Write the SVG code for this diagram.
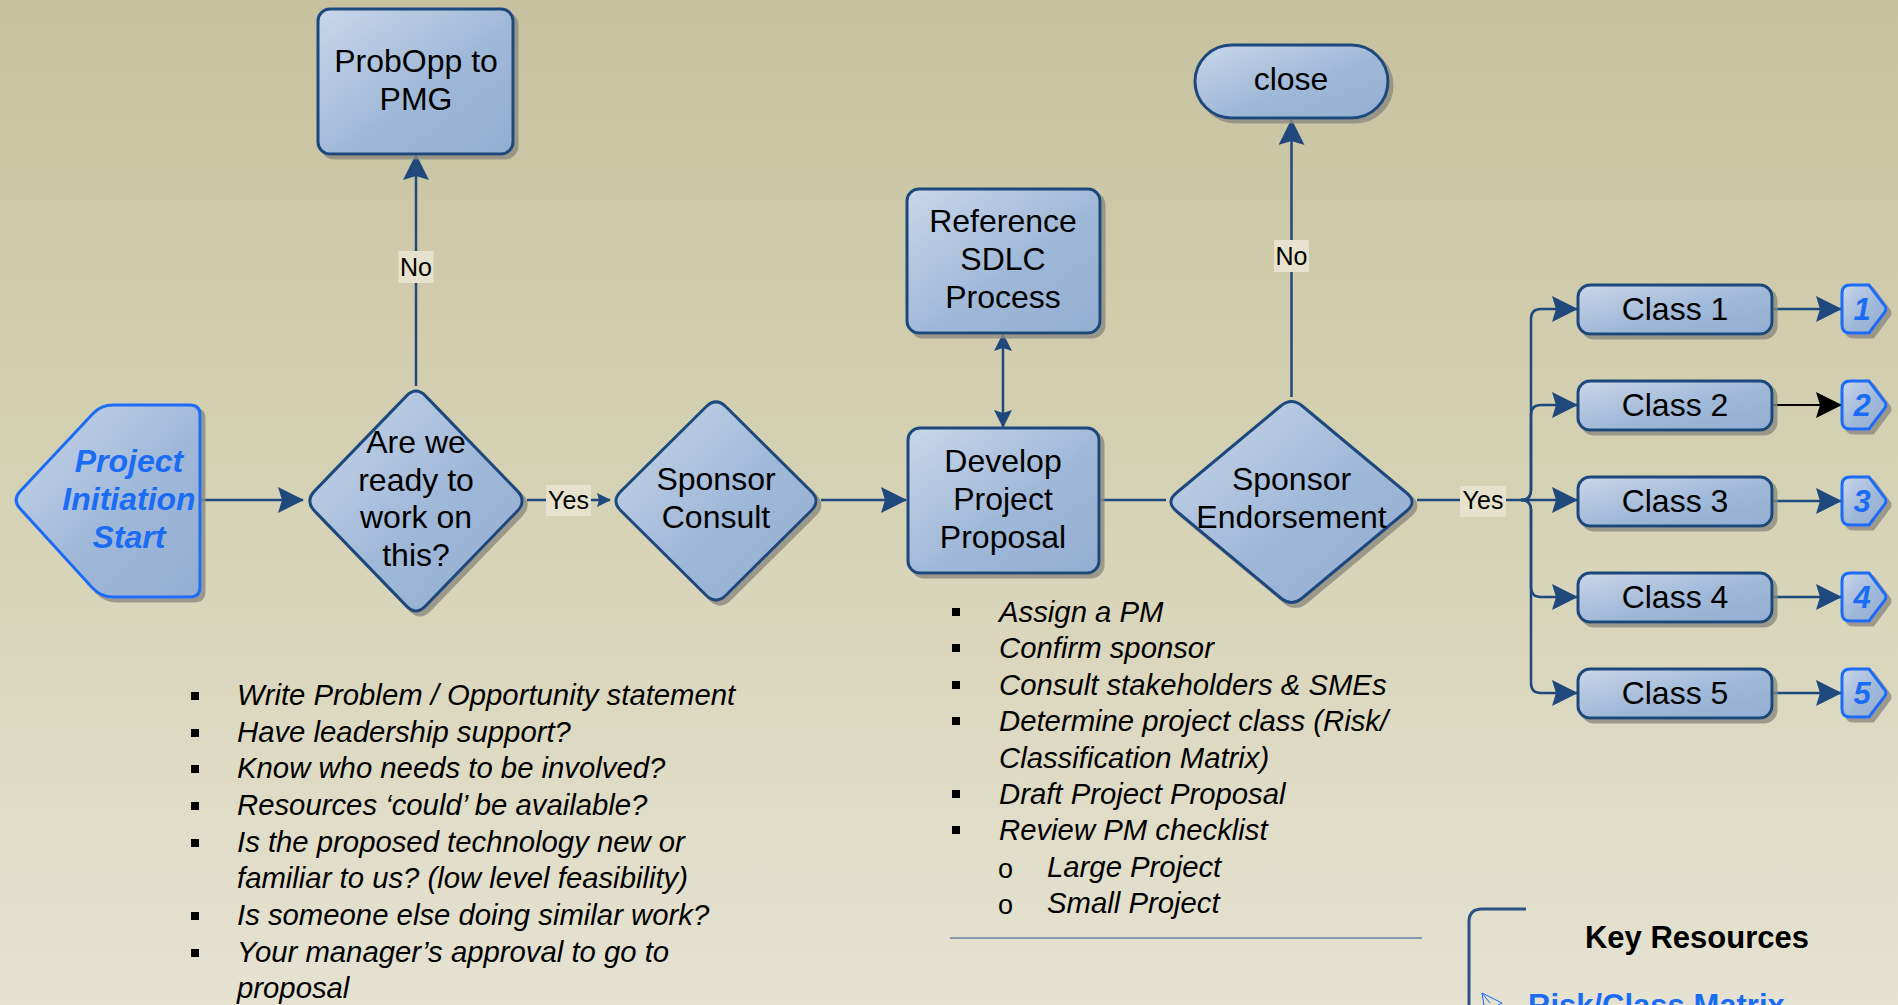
<svg xmlns="http://www.w3.org/2000/svg" width="1898" height="1005" viewBox="0 0 1898 1005">
<defs>
<linearGradient id="bg" x1="0" y1="0" x2="0" y2="1">
<stop offset="0" stop-color="#c6c29f"/>
<stop offset="0.5" stop-color="#d6d2b5"/>
<stop offset="1" stop-color="#e5e2d2"/>
</linearGradient>
<linearGradient id="nf" x1="0" y1="0" x2="1" y2="1">
<stop offset="0" stop-color="#c9d7e9"/>
<stop offset="0.55" stop-color="#a0b8d8"/>
<stop offset="1" stop-color="#94aed2"/>
</linearGradient>
<filter id="sh" x="-10%" y="-10%" width="130%" height="130%">
<feOffset in="SourceAlpha" dx="4" dy="4" result="o"/>
<feFlood flood-color="#8c8a7e" flood-opacity="0.8"/>
<feComposite in2="o" operator="in" result="s"/>
<feMerge><feMergeNode in="s"/><feMergeNode in="SourceGraphic"/></feMerge>
</filter>
<marker id="big" markerUnits="userSpaceOnUse" markerWidth="26" markerHeight="26" viewBox="0 0 26 26" refX="25" refY="13" orient="auto">
<path d="M0,0 L26,13 L0,26 L4,13 Z" fill="#1f497d"/>
</marker>
<marker id="bigk" markerUnits="userSpaceOnUse" markerWidth="26" markerHeight="26" viewBox="0 0 26 26" refX="25" refY="13" orient="auto">
<path d="M0,0 L26,13 L0,26 L4,13 Z" fill="#000"/>
</marker>
<marker id="md" markerUnits="userSpaceOnUse" markerWidth="18" markerHeight="18" viewBox="0 0 18 18" refX="17" refY="9" orient="auto-start-reverse">
<path d="M0,0 L18,9 L0,18 L3,9 Z" fill="#1f497d"/>
</marker>
<marker id="sm" markerUnits="userSpaceOnUse" markerWidth="14" markerHeight="14" viewBox="0 0 14 14" refX="13" refY="7" orient="auto">
<path d="M0,0 L14,7 L0,14 L2,7 Z" fill="#1f497d"/>
</marker>
<style>
.t{font-family:"Liberation Sans",Arial,sans-serif;font-size:32px;text-anchor:middle;fill:#000}
.n{fill:url(#nf);stroke:#1f497d;stroke-width:3;filter:url(#sh)}
.nb{fill:url(#nf);stroke:#1a6cf5;stroke-width:3;filter:url(#sh)}
.bt{font-family:"Liberation Sans",Arial,sans-serif;font-weight:bold;font-style:italic;fill:#1a6cf5;text-anchor:middle}
.c{fill:none;stroke:#1f497d;stroke-width:2.5}
.lb{fill:#e6e2cd}
.lt{font-family:"Liberation Sans",Arial,sans-serif;font-size:25px;text-anchor:middle;fill:#000}
.li{font-family:"Liberation Sans",Arial,sans-serif;font-size:29.3px;font-style:italic;fill:#000}
.bu{fill:#000}
.ob{font-family:"Liberation Sans",Arial,sans-serif;font-size:27px;fill:#000}
</style>
</defs>
<rect x="0" y="0" width="1898" height="1005" fill="url(#bg)"/>

<g id="connectors">
<path class="c" d="M200,500 H303" marker-end="url(#big)"/>
<path class="c" d="M416,386 V155" marker-end="url(#big)"/>
<path class="c" d="M527,500 H610" marker-end="url(#sm)"/>
<path class="c" d="M821,500 H906" marker-end="url(#big)"/>
<path class="c" d="M1003,334 V427" marker-start="url(#md)" marker-end="url(#md)"/>
<path class="c" d="M1099,500 H1166"/>
<path class="c" d="M1291.5,397 V120" marker-end="url(#big)"/>
<path class="c" d="M1417,500 H1577" marker-end="url(#big)"/>
<path class="c" d="M1521,500 Q1531,500 1531,490 V319 Q1531,309 1541,309 H1577" marker-end="url(#big)"/>
<path class="c" d="M1521,500 Q1531,500 1531,490 V415 Q1531,405 1541,405 H1577" marker-end="url(#big)"/>
<path class="c" d="M1521,500 Q1531,500 1531,510 V587 Q1531,597 1541,597 H1577" marker-end="url(#big)"/>
<path class="c" d="M1521,500 Q1531,500 1531,510 V683 Q1531,693 1541,693 H1577" marker-end="url(#big)"/>
<path class="c" d="M1772,309 H1841" marker-end="url(#big)"/>
<path fill="none" stroke="#000" stroke-width="2" d="M1772,405 H1841" marker-end="url(#bigk)"/>
<path class="c" d="M1772,501 H1841" marker-end="url(#big)"/>
<path class="c" d="M1772,597 H1841" marker-end="url(#big)"/>
<path class="c" d="M1772,693 H1841" marker-end="url(#big)"/>
<rect class="lb" x="398.5" y="251" width="35" height="32"/>
<text class="lt" x="416" y="276">No</text>
<rect class="lb" x="546" y="485" width="45" height="31"/>
<text class="lt" x="568.5" y="509">Yes</text>
<rect class="lb" x="1274" y="240" width="35" height="32"/>
<text class="lt" x="1291.5" y="265">No</text>
<rect class="lb" x="1460" y="486" width="46" height="31"/>
<text class="lt" x="1483" y="509">Yes</text>
</g>

<g id="start">
<path class="nb" d="M20.2,491.2 L92.8,413.8 Q101,405 113,405 H190 Q200,405 200,415 V587 Q200,597 190,597 H113 Q101,597 92.8,588.2 L20.2,508.8 Q12,500 20.2,491.2 Z"/>
<text class="bt" font-size="32" x="129" y="472">Project</text>
<text class="bt" font-size="32" x="129" y="510">Initiation</text>
<text class="bt" font-size="32" x="129" y="548">Start</text>
</g>

<g id="ready">
<path class="n" d="M406.3,396.1 Q416,386 425.7,396.1 L517.3,490.9 Q527,501 517.3,511.1 L425.7,605.9 Q416,616 406.3,605.9 L314.7,511.1 Q305,501 314.7,490.9 Z"/>
<text class="t" x="416" y="453">Are we</text>
<text class="t" x="416" y="491">ready to</text>
<text class="t" x="416" y="528">work on</text>
<text class="t" x="416" y="566">this?</text>
</g>

<g id="probopp">
<rect class="n" x="318" y="9" width="195" height="145" rx="12"/>
<text class="t" x="416" y="72">ProbOpp to</text>
<text class="t" x="416" y="110">PMG</text>
</g>

<g id="sponsor-consult">
<path class="n" d="M706.1,406.8 Q716,397 725.9,406.8 L811.1,491.2 Q821,501 811.1,510.8 L725.9,595.2 Q716,605 706.1,595.2 L620.9,510.8 Q611,501 620.9,491.2 Z"/>
<text class="t" x="716" y="490">Sponsor</text>
<text class="t" x="716" y="528">Consult</text>
</g>

<g id="develop">
<rect class="n" x="908" y="428" width="191" height="145" rx="12"/>
<text class="t" x="1003" y="472">Develop</text>
<text class="t" x="1003" y="510">Project</text>
<text class="t" x="1003" y="548">Proposal</text>
</g>

<g id="reference">
<rect class="n" x="907" y="189" width="193" height="144" rx="12"/>
<text class="t" x="1003" y="232">Reference</text>
<text class="t" x="1003" y="270">SDLC</text>
<text class="t" x="1003" y="308">Process</text>
</g>

<g id="endorsement">
<path class="n" d="M1280.7,406 Q1291.5,397 1302.3,406 L1406.7,493 Q1417.5,502 1406.7,511 L1302.3,598 Q1291.5,607 1280.7,598 L1176.3,511 Q1165.5,502 1176.3,493 Z"/>
<text class="t" x="1291.5" y="490">Sponsor</text>
<text class="t" x="1291.5" y="528">Endorsement</text>
</g>

<g id="close">
<rect class="n" x="1195" y="45" width="193" height="73" rx="36.5"/>
<text class="t" x="1291" y="90">close</text>
</g>

<g id="class1">
<rect class="n" x="1578" y="285" width="194" height="49" rx="12"/>
<text class="t" font-size="31" x="1675" y="320">Class 1</text>
</g>
<g id="class2">
<rect class="n" x="1578" y="381" width="194" height="49" rx="12"/>
<text class="t" font-size="31" x="1675" y="416">Class 2</text>
</g>
<g id="class3">
<rect class="n" x="1578" y="477" width="194" height="49" rx="12"/>
<text class="t" font-size="31" x="1675" y="512">Class 3</text>
</g>
<g id="class4">
<rect class="n" x="1578" y="573" width="194" height="49" rx="12"/>
<text class="t" font-size="31" x="1675" y="608">Class 4</text>
</g>
<g id="class5">
<rect class="n" x="1578" y="669" width="194" height="49" rx="12"/>
<text class="t" font-size="31" x="1675" y="704">Class 5</text>
</g>

<g id="off1">
<path class="nb" transform="translate(0,309)" d="M1850,-24 H1869 L1885,-3 Q1887,0 1885,3 L1869,24 H1850 Q1842,24 1842,16 V-16 Q1842,-24 1850,-24 Z"/>
<text class="bt" font-size="31" x="1862" y="320">1</text>
</g>
<g id="off2">
<path class="nb" transform="translate(0,405)" d="M1850,-24 H1869 L1885,-3 Q1887,0 1885,3 L1869,24 H1850 Q1842,24 1842,16 V-16 Q1842,-24 1850,-24 Z"/>
<text class="bt" font-size="31" x="1862" y="416">2</text>
</g>
<g id="off3">
<path class="nb" transform="translate(0,501)" d="M1850,-24 H1869 L1885,-3 Q1887,0 1885,3 L1869,24 H1850 Q1842,24 1842,16 V-16 Q1842,-24 1850,-24 Z"/>
<text class="bt" font-size="31" x="1862" y="512">3</text>
</g>
<g id="off4">
<path class="nb" transform="translate(0,597)" d="M1850,-24 H1869 L1885,-3 Q1887,0 1885,3 L1869,24 H1850 Q1842,24 1842,16 V-16 Q1842,-24 1850,-24 Z"/>
<text class="bt" font-size="31" x="1862" y="608">4</text>
</g>
<g id="off5">
<path class="nb" transform="translate(0,693)" d="M1850,-24 H1869 L1885,-3 Q1887,0 1885,3 L1869,24 H1850 Q1842,24 1842,16 V-16 Q1842,-24 1850,-24 Z"/>
<text class="bt" font-size="31" x="1862" y="704">5</text>
</g>

<g id="list-left">
<rect class="bu" x="191" y="692" width="8" height="8"/>
<rect class="bu" x="191" y="729" width="8" height="8"/>
<rect class="bu" x="191" y="765" width="8" height="8"/>
<rect class="bu" x="191" y="802" width="8" height="8"/>
<rect class="bu" x="191" y="839" width="8" height="8"/>
<rect class="bu" x="191" y="912" width="8" height="8"/>
<rect class="bu" x="191" y="949" width="8" height="8"/>
<text class="li" x="237" y="705">Write Problem / Opportunity statement</text>
<text class="li" x="237" y="742">Have leadership support?</text>
<text class="li" x="237" y="778">Know who needs to be involved?</text>
<text class="li" x="237" y="815">Resources ‘could’ be available?</text>
<text class="li" x="237" y="852">Is the proposed technology new or</text>
<text class="li" x="237" y="888">familiar to us? (low level feasibility)</text>
<text class="li" x="237" y="925">Is someone else doing similar work?</text>
<text class="li" x="237" y="962">Your manager’s approval to go to</text>
<text class="li" x="237" y="998">proposal</text>
</g>

<g id="list-mid">
<rect class="bu" x="952" y="608" width="8" height="8"/>
<rect class="bu" x="952" y="644" width="8" height="8"/>
<rect class="bu" x="952" y="681" width="8" height="8"/>
<rect class="bu" x="952" y="717" width="8" height="8"/>
<rect class="bu" x="952" y="790" width="8" height="8"/>
<rect class="bu" x="952" y="826" width="8" height="8"/>
<text class="li" x="999" y="622">Assign a PM</text>
<text class="li" x="999" y="658">Confirm sponsor</text>
<text class="li" x="999" y="695">Consult stakeholders &amp; SMEs</text>
<text class="li" x="999" y="731">Determine project class (Risk/</text>
<text class="li" x="999" y="768">Classification Matrix)</text>
<text class="li" x="999" y="804">Draft Project Proposal</text>
<text class="li" x="999" y="840">Review PM checklist</text>
<text class="ob" x="998" y="878">o</text>
<text class="ob" x="998" y="914">o</text>
<text class="li" x="1047" y="877">Large Project</text>
<text class="li" x="1047" y="913">Small Project</text>
<path d="M950,938 H1422" stroke="#6a84a6" stroke-width="1.5" fill="none"/>
</g>

<g id="key-resources">
<path d="M1526,909 H1482 Q1469,909 1469,922 V1010" fill="none" stroke="#2b5485" stroke-width="3"/>
<text x="1697" y="948" font-family="Liberation Sans, Arial, sans-serif" font-size="31" font-weight="bold" text-anchor="middle" fill="#000">Key Resources</text>
<path d="M1482,993 L1502,1003 L1485,1012 Z M1482,993 L1490,1003" fill="none" stroke="#1a6cf5" stroke-width="1"/>
<text x="1528" y="1016" font-family="Liberation Sans, Arial, sans-serif" font-size="31" font-weight="bold" fill="#1a6cf5">Risk/Class Matrix</text>
</g>
</svg>
